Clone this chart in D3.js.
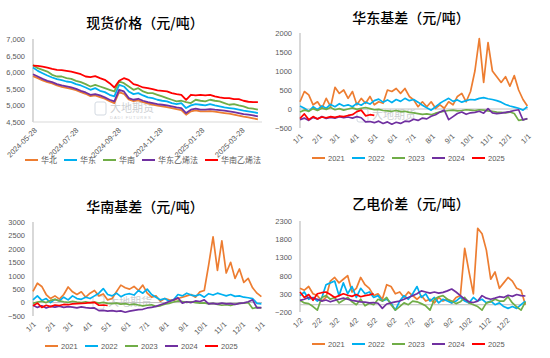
<!DOCTYPE html>
<html>
<head>
<meta charset="utf-8">
<script src="https://cdn.jsdelivr.net/npm/d3@7"></script>
<style>
  body { margin: 0; background: #fff; }
  text { font-family: "Liberation Sans", Arial, sans-serif; }
  .cn { font-family: "Noto Sans CJK SC", "Noto Sans", sans-serif; }
</style>
</head>
<body>
<div id="chart"></div>
<script>
// ---- data ----
const seriesColors = ["#ED7D31", "#00B0F0", "#70AD47", "#7030A0", "#FF0000"];
const yearNames = ["2021", "2022", "2023", "2024", "2025"];
const priceNames = ["华北", "华东", "华南", "华东乙烯法", "华南乙烯法"];
const priceTickLabels = ["2024-05-28", "2024-07-28", "2024-09-28", "2024-11-28", "2025-01-28", "2025-03-28"];
const monthLabels1 = ["1/1", "2/1", "3/1", "4/1", "5/1", "6/1", "7/1", "8/1", "9/1", "10/1", "11/1", "12/1", "1/1"];
const monthDays1 = [0, 31, 59, 90, 120, 151, 181, 212, 243, 273, 304, 334, 365];
const monthLabels2 = ["1/2", "2/2", "3/2", "4/2", "5/2", "6/2", "7/2", "8/2", "9/2", "10/2", "11/2", "12/2"];
const monthDays2 = [0, 31, 59, 90, 120, 151, 181, 212, 243, 273, 304, 334];

// spot prices, weekly from 2024-05-28
const priceHuabei = [5880,5820,5750,5700,5660,5600,5560,5530,5500,5460,5400,5350,5280,5300,5250,5200,5130,5070,5400,5350,5180,5130,5150,5100,5060,5020,4990,4970,4950,4920,4890,4860,4720,4820,4850,4820,4820,4830,4810,4790,4770,4750,4720,4690,4660,4640,4610,4580];
const priceHuadong = [6140,6040,5970,5900,5840,5790,5760,5720,5700,5640,5600,5540,5470,5520,5440,5400,5320,5270,5620,5570,5420,5340,5370,5300,5240,5220,5170,5140,5120,5070,5040,5070,4920,5000,5040,5020,5000,5040,5000,4970,4940,4920,4900,4870,4840,4820,4800,4770];
const priceHuanan = [6220,6120,6070,6020,5920,5870,5870,5820,5800,5740,5700,5640,5570,5620,5570,5520,5470,5420,5720,5670,5570,5470,5520,5420,5370,5370,5320,5270,5220,5170,5120,5140,5100,5070,5170,5140,5120,5170,5140,5120,5070,5020,5040,5000,4970,4920,4900,4870];
const priceEastEthylene = [5940,5870,5800,5740,5700,5640,5600,5570,5540,5500,5440,5390,5320,5340,5300,5240,5170,5120,5470,5420,5220,5170,5200,5140,5100,5070,5040,5020,5000,4970,4940,4920,4770,4870,4900,4870,4870,4890,4870,4860,4840,4820,4800,4770,4740,4720,4700,4670];
const priceSouthEthylene = [6200,6190,6170,6140,6100,6070,6060,6040,6020,5980,5940,5870,5850,5880,5820,5770,5670,5540,5740,5820,5770,5640,5600,5540,5520,5490,5450,5440,5420,5370,5340,5320,5170,5320,5300,5320,5300,5320,5270,5240,5220,5220,5190,5190,5140,5110,5100,5100];

// East China basis, weekly by day of year
const east2021 = [190,460,370,110,190,20,280,60,570,410,500,280,460,110,280,150,330,110,190,150,500,460,540,410,540,330,240,60,190,60,190,20,110,20,190,110,330,410,190,460,1000,1850,700,1750,1000,850,700,850,600,880,500,250,80];
const east2022 = [80,20,-60,60,-20,80,20,120,60,140,80,110,60,150,100,180,130,220,260,180,240,170,250,200,280,220,250,180,100,30,-30,60,150,220,280,200,240,180,220,250,240,280,300,270,250,220,180,120,80,50,20,-30,60];
const east2023 = [-80,-30,-60,10,-40,20,-10,40,-20,10,-30,0,30,-10,20,40,10,-20,-10,-40,-50,-60,-40,-70,-60,-90,-100,-120,-140,-130,-150,-110,-80,-60,-40,-30,-50,-40,-20,-30,-40,-20,-30,-50,-60,-80,-90,-100,-80,-120,-300,-280,-260];
const east2024 = [-280,-240,-300,-220,-260,-200,-250,-220,-240,-200,-230,-210,-240,-200,-230,-340,-330,-360,-320,-380,-340,-400,-350,-380,-320,-330,-270,-300,-240,-260,-190,-150,-80,-30,-280,-200,-120,-80,-140,-100,-90,-60,-110,10,-100,-120,-110,-90,-70,-40,-20,-290,-250];
const east2025 = [-250,-130,-280,-200,-260,-210,-230,-200,-220,-190,-200,-170,-150,-70,-30,-180,-150,-170];

// South China basis
const south2021 = [420,720,600,300,150,250,130,300,580,400,300,400,200,350,450,250,320,100,150,400,650,550,500,600,450,650,350,200,250,50,150,100,80,150,200,250,300,200,400,450,1400,2450,1200,2300,1100,1500,900,1250,750,900,550,350,220];
const south2022 = [100,250,80,150,0,120,60,200,100,250,150,120,200,150,250,350,520,300,250,350,220,300,330,280,450,350,500,300,200,100,150,50,100,300,250,350,280,250,300,200,330,280,350,300,250,300,230,250,200,180,150,-30,-50];
const south2023 = [-30,20,50,0,80,120,60,30,10,50,20,0,30,-10,20,-20,10,-30,-40,-20,-60,-40,-80,-60,-90,-120,-100,-80,-140,-120,-60,-30,20,60,40,10,30,0,-20,-10,-50,-30,-70,-100,-80,-110,-60,-30,-20,0,-220,-180,-200];
const south2024 = [-100,-180,-120,-200,-140,-170,-130,-180,-150,-170,-200,-160,-190,-210,-200,-300,-290,-320,-300,-330,-310,-360,-320,-290,-260,-250,-200,-180,-140,-80,-30,40,100,180,-20,30,0,60,40,100,-50,-30,-60,-20,-50,-40,-70,-30,-10,30,100,-200,-190];
const south2025 = [-120,-20,-180,-100,-150,-90,-110,-70,-80,-50,-40,-30,-20,0,10,-100,-90,-110];

// ethylene vs calcium carbide spread
const pvc2021 = [450,400,500,300,250,100,200,650,750,600,700,800,350,450,750,550,450,250,300,150,550,500,300,350,200,350,250,150,250,100,150,50,200,100,150,50,200,250,1550,900,300,2100,1950,1500,700,900,450,600,750,650,450,400,0];
const pvc2022 = [250,350,150,200,100,180,550,600,650,250,600,300,500,200,450,300,350,200,250,100,150,50,-150,100,250,150,300,500,200,300,100,200,50,150,100,50,100,200,100,50,200,100,150,50,100,0,50,-50,-100,-50,-100,0,100];
const pvc2023 = [120,50,30,-50,-150,200,250,150,200,50,120,200,80,0,150,-30,40,0,150,100,200,0,-150,-50,50,0,100,80,30,-30,-150,150,220,250,150,100,30,80,200,50,0,-50,-150,50,80,150,100,100,220,50,-60,-150,80];
const pvc2024 = [120,150,200,180,150,100,130,80,120,150,180,150,120,100,80,70,50,60,40,-100,20,50,80,100,150,200,250,300,380,350,320,350,320,340,380,430,350,250,150,80,60,100,250,180,150,180,220,200,260,230,280,250,240];
const pvc2025 = [350,200,280,120,300,330,350,280,200,250,300,260,230,280,220,250,270,300];

// ---- drawing ----
const W = 550, H = 358;
const svg = d3.select("#chart").append("svg").attr("width", W).attr("height", H);
const tickColor = "#595959";
const axisGray = "#bfbfbf";

function watermark(g, x, y, small) {
  const w = g.append("g").attr("opacity", 0.5);
  w.append("rect").attr("x", x - 15).attr("y", y - 10).attr("width", 11).attr("height", 13)
    .attr("rx", 2).attr("fill", "none").attr("stroke", "#a9b7c6").attr("stroke-width", 1);
  w.append("text").attr("class", "cn").attr("x", x).attr("y", y).style("font-size", "11px")
    .attr("fill", "#9aa0a6").text("大地期货");
  if (small) {
    w.append("text").attr("x", x).attr("y", y + 7).style("font-size", "4px")
      .attr("fill", "#9aa0a6").attr("letter-spacing", 1).text("DADI FUTURES");
  }
}

function panel(p) {
  const g = svg.append("g");
  const x = p.x, y = p.y;
  const [x0, x1] = x.range();
  const [yb, yt] = y.range();

  g.append("text").attr("class", "cn")
    .attr("x", p.titleX).attr("y", p.titleY)
    .attr("text-anchor", "middle")
    .style("font-size", "14px").style("font-weight", 500).attr("fill", "#000")
    .text(p.title);

  if (p.mark) watermark(g, p.mark[0], p.mark[1], p.mark[2]);

  g.append("g")
    .attr("transform", `translate(${x0},0)`)
    .call(d3.axisLeft(y).tickValues(p.yTicks).tickSize(0).tickPadding(8).tickFormat(p.yFormat))
    .call((a) => a.select(".domain").remove())
    .selectAll("text").style("font-size", "7.5px").attr("fill", tickColor);

  g.append("line").attr("x1", x0).attr("x2", x0).attr("y1", yt).attr("y2", yb)
    .attr("stroke", axisGray).attr("stroke-width", 1.2);

  const baseY = p.zero ? y(0) : yb;
  g.append("line").attr("x1", x0).attr("x2", x1).attr("y1", baseY).attr("y2", baseY)
    .attr("stroke", p.zero ? axisGray : "#d9d9d9").attr("stroke-width", 1);

  g.append("g")
    .attr("transform", `translate(0,${yb})`)
    .call(d3.axisBottom(x).tickValues(p.xTicks).tickSize(0).tickFormat((d, i) => p.xLabels[i]))
    .call((a) => a.select(".domain").remove())
    .selectAll("text")
    .attr("x", 0).attr("y", 0).attr("dy", "0.35em")
    .attr("transform", `translate(${p.labelShift[0]},${p.labelShift[1]}) rotate(-45)`)
    .style("text-anchor", "end").style("font-size", p.labelSize).attr("fill", tickColor);

  const line = d3.line().x((d) => x(d[0])).y((d) => y(d[1]));
  p.series.forEach((s, k) => {
    g.append("path")
      .datum(s.map((v, i) => [p.xs[i], v]))
      .attr("fill", "none")
      .attr("stroke", seriesColors[k])
      .attr("stroke-width", p.lineWidth)
      .attr("stroke-linejoin", "round")
      .attr("d", line);
  });

  // legend
  const lg = g.append("g").attr("transform", `translate(${p.legend[0]},${p.legend[1]})`);
  let cx = 0;
  p.names.forEach((name, k) => {
    lg.append("line").attr("x1", cx).attr("x2", cx + 13).attr("y1", 0).attr("y2", 0)
      .attr("stroke", seriesColors[k]).attr("stroke-width", 2);
    const t = lg.append("text").attr("class", p.cnLegend ? "cn" : null)
      .attr("x", cx + 16).attr("y", 0).attr("dy", "0.35em")
      .style("font-size", p.cnLegend ? "8px" : "7.5px").attr("fill", tickColor)
      .text(name);
    cx = p.legendStep ? cx + p.legendStep : cx + 16 + t.node().getComputedTextLength() + 7;
  });
}

// panel 1: spot prices
const parseDay = d3.timeParse("%Y-%m-%d");
const priceStart = parseDay("2024-05-28");
const priceDates = priceHuabei.map((_, i) => d3.timeDay.offset(priceStart, i * 7));
panel({
  title: "现货价格（元/吨）", titleX: 145, titleY: 28,
  x: d3.scaleTime().domain([priceStart, parseDay("2025-04-28")]).range([33, 262]),
  y: d3.scaleLinear().domain([4500, 7000]).range([122, 39]),
  yTicks: d3.range(4500, 7001, 500), yFormat: d3.format(","),
  xTicks: priceTickLabels.map(parseDay), xLabels: priceTickLabels,
  labelShift: [2, 7], labelSize: "7.5px", xs: priceDates, zero: false, lineWidth: 1.8,
  series: [priceHuabei, priceHuadong, priceHuanan, priceEastEthylene, priceSouthEthylene],
  names: priceNames, cnLegend: true, legend: [25, 160], mark: [110, 112, true]
});

const basisDays = d3.range(0, 365, 7);

// panel 2: East China basis
panel({
  title: "华东基差（元/吨）", titleX: 411, titleY: 23,
  x: d3.scaleLinear().domain([0, 365]).range([300, 528]),
  y: d3.scaleLinear().domain([-500, 2000]).range([128, 33]),
  yTicks: d3.range(-500, 2001, 500), yFormat: d3.format("d"),
  xTicks: monthDays1, xLabels: monthLabels1,
  labelShift: [1, 7], labelSize: "7.5px", xs: basisDays, zero: true, lineWidth: 1.7,
  series: [east2021, east2022, east2023, east2024, east2025],
  names: yearNames, legend: [312, 158], legendStep: 40, mark: [372, 119, false]
});

// panel 3: South China basis
panel({
  title: "华南基差（元/吨）", titleX: 145, titleY: 212,
  x: d3.scaleLinear().domain([0, 365]).range([33, 262]),
  y: d3.scaleLinear().domain([-500, 3000]).range([316, 222]),
  yTicks: d3.range(-500, 3001, 500), yFormat: d3.format("d"),
  xTicks: monthDays1, xLabels: monthLabels1,
  labelShift: [1, 7], labelSize: "7.5px", xs: basisDays, zero: true, lineWidth: 1.7,
  series: [south2021, south2022, south2023, south2024, south2025],
  names: yearNames, legend: [45, 346], legendStep: 40, mark: [108, 306, false]
});

// panel 4: ethylene vs carbide spread
panel({
  title: "乙电价差（元/吨）", titleX: 411, titleY: 209,
  x: d3.scaleLinear().domain([0, 365]).range([300, 526]),
  y: d3.scaleLinear().domain([-200, 2300]).range([312, 221]),
  yTicks: d3.range(-200, 2301, 500), yFormat: d3.format("d"),
  xTicks: monthDays2, xLabels: monthLabels2,
  labelShift: [1, 7], labelSize: "7.5px", xs: basisDays, zero: true, lineWidth: 1.7,
  series: [pvc2021, pvc2022, pvc2023, pvc2024, pvc2025],
  names: yearNames, legend: [312, 344], legendStep: 40
});
</script>
</body>
</html>
